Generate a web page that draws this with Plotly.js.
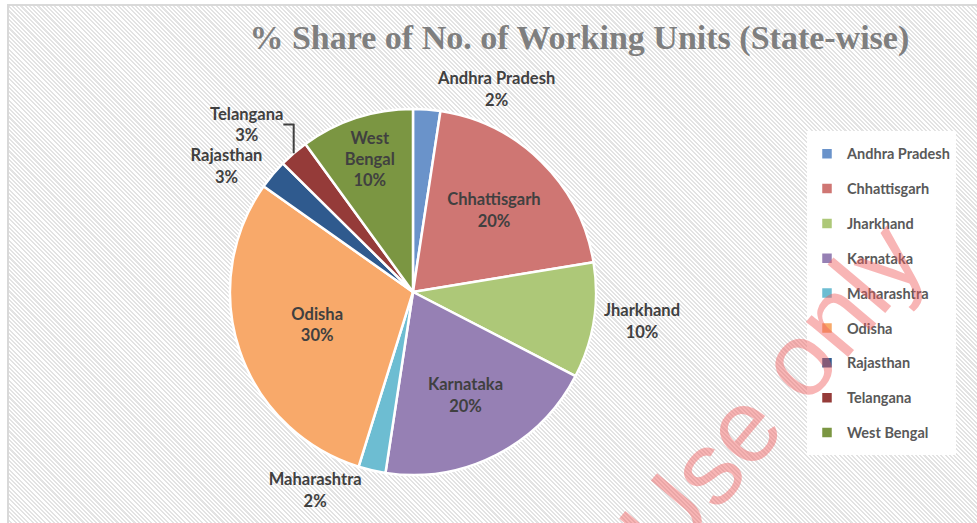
<!DOCTYPE html>
<html>
<head>
<meta charset="utf-8">
<script src="https://cdn.plot.ly/plotly-3.0.1.min.js"></script>
<style>
  html, body { margin: 0; padding: 0; background: #ffffff; width: 977px; height: 523px; overflow: hidden; }
  #bg { position: absolute; left: 7px; top: 4px; width: 980px; height: 530px;
        border-top: 2px solid #d9d9d9; border-left: 2px solid #d9d9d9;
        background: repeating-linear-gradient(45deg, #ffffff 0px, #ffffff 1.5px, #e3e3e3 1.5px, #e3e3e3 3px); }
  #chart { position: absolute; left: 0; top: 0; width: 977px; height: 523px; }
</style>
</head>
<body>
<div id="bg"></div>
<div id="chart"></div>
<script>
// Data (share of working units, %)
const states = ["Andhra Pradesh", "Chhattisgarh", "Jharkhand", "Karnataka", "Maharashtra",
                "Odisha", "Rajasthan", "Telangana", "West Bengal"];
const shares = [2.4, 20.0, 10.2, 19.8, 2.4, 30.0, 2.6, 2.6, 10.0];
const sliceColors = ["#6A93CA", "#CF7673", "#ADC878", "#9680B4", "#6DBDD2",
                     "#F8A96A", "#2F5A8E", "#953B39", "#7B9642"];
const labelPositions = ["outside", "inside", "outside", "inside", "outside",
                        "inside", "outside", "outside", "inside"];
const titleText = "% Share of No. of Working Units (State-wise)";

// Slice text: names (West Bengal wrapped onto two lines as in the reference)
const sliceNames = states.map(s => s === "West Bengal" ? "West<br>Bengal" : s);
// Legend labels drawn at a smaller size than the legend line height
const legendLabels = states.map(s => '<span style="font-size:14.5px;font-weight:bold;baseline-shift:4px">' + s + '</span>');

const trace = {
  type: "pie",
  labels: legendLabels,
  values: shares,
  text: sliceNames,
  texttemplate: "%{text}<br>%{percent:.0%}",
  textposition: labelPositions,
  insidetextorientation: "horizontal",
  sort: false,
  direction: "clockwise",
  rotation: 0,
  marker: { colors: sliceColors, line: { color: "#ffffff", width: 2.5 } },
  textfont: { family: "Lato, 'Open Sans', sans-serif", size: 16.5, color: "#404040", weight: "bold" },
  insidetextfont: { family: "Lato, 'Open Sans', sans-serif", size: 16.5, color: "#404040", weight: "bold" },
  outsidetextfont: { family: "Lato, 'Open Sans', sans-serif", size: 16.5, color: "#404040", weight: "bold" },
  domain: { x: [0.2354, 0.6100], y: [0.0918, 0.7916] },
  hoverinfo: "label+percent",
  automargin: false
};

const layout = {
  width: 977,
  height: 523,
  margin: { l: 0, r: 0, t: 0, b: 0 },
  paper_bgcolor: "rgba(0,0,0,0)",
  plot_bgcolor: "rgba(0,0,0,0)",
  title: {
    text: "<b>" + titleText + "</b>",
    x: 0.593, xanchor: "center",
    y: 0.93, yanchor: "middle",
    font: { family: "'Liberation Serif', 'DejaVu Serif', serif", size: 34, color: "#7f7f7f" }
  },
  showlegend: true,
  legend: {
    x: 0.826, xanchor: "left",
    y: 0.749, yanchor: "top",
    bgcolor: "#ffffff",
    borderwidth: 0,
    font: { family: "Lato, 'Open Sans', sans-serif", size: 24.5, color: "#595959", weight: "bold" },
    traceorder: "normal"
  },
  annotations: [{
    text: "Use only",
    xref: "paper", yref: "paper",
    x: 0.79, y: 0.25, xanchor: "center", yanchor: "middle",
    showarrow: false,
    textangle: -50,
    font: { family: "'Liberation Sans', Arial, sans-serif", size: 104, color: "rgba(240,90,90,0.45)" }
  }]
};

Plotly.newPlot("chart", [trace], layout, { displayModeBar: false, staticPlot: true });
</script>
</body>
</html>
